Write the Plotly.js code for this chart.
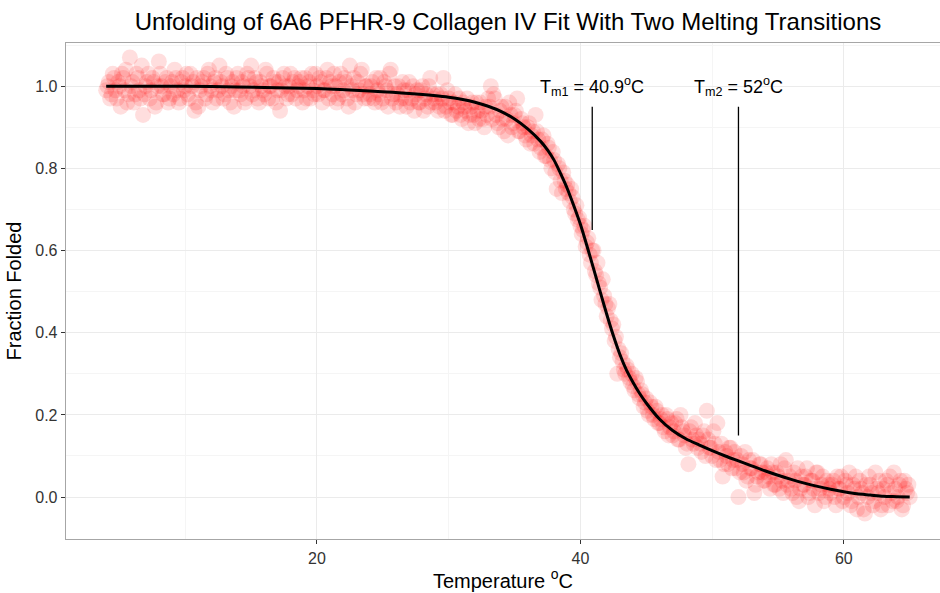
<!DOCTYPE html>
<html>
<head>
<meta charset="utf-8">
<script src="https://cdn.plot.ly/plotly-3.0.1.min.js"></script>
<style>html,body{margin:0;padding:0;background:#fff;overflow:hidden}#chart{width:940px;height:593px}</style>
</head>
<body>
<div id="chart"></div>
<script>
// Measured points: temperature (°C) and fraction folded (first pass of readings)
var tempC = [
 4.0,4.2,4.4,4.6,4.8,5.0,5.2,5.4,5.6,5.8,6.0,6.2,6.4,6.6,6.8,7.0,7.2,7.4,7.6,7.8,8.0,8.2,8.4,8.6,8.8,
 9.0,9.2,9.4,9.6,9.8,10.0,10.2,10.4,10.6,10.8,11.0,11.2,11.4,11.6,11.8,12.0,12.2,12.4,12.6,12.8,13.0,13.2,13.4,13.6,13.8,
 14.0,14.2,14.4,14.6,14.8,15.0,15.2,15.4,15.6,15.8,16.0,16.2,16.4,16.6,16.8,17.0,17.2,17.4,17.6,17.8,18.0,18.2,18.4,18.6,18.8,
 19.0,19.2,19.4,19.6,19.8,20.0,20.2,20.4,20.6,20.8,21.0,21.2,21.4,21.6,21.8,22.0,22.2,22.4,22.6,22.8,23.0,23.2,23.4,23.6,23.8,
 24.0,24.2,24.4,24.6,24.8,25.0,25.2,25.4,25.6,25.8,26.0,26.2,26.4,26.6,26.8,27.0,27.2,27.4,27.6,27.8,28.0,28.2,28.4,28.6,28.8,
 29.0,29.2,29.4,29.6,29.8,30.0,30.2,30.4,30.6,30.8,31.0,31.2,31.4,31.6,31.8,32.0,32.2,32.4,32.6,32.8,33.0,33.2,33.4,33.6,33.8,
 34.0,34.2,34.4,34.6,34.8,35.0,35.2,35.4,35.6,35.8,36.0,36.2,36.4,36.6,36.8,37.0,37.2,37.4,37.6,37.8,38.0,38.2,38.4,38.6,38.8,
 39.0,39.2,39.4,39.6,39.8,40.0,40.2,40.4,40.6,40.8,41.0,41.2,41.4,41.6,41.8,42.0,42.2,42.4,42.6,42.8,43.0,43.2,43.4,43.6,43.8,
 44.0,44.2,44.4,44.6,44.8,45.0,45.2,45.4,45.6,45.8,46.0,46.2,46.4,46.6,46.8,47.0,47.2,47.4,47.6,47.8,48.0,48.2,48.4,48.6,48.8,
 49.0,49.2,49.4,49.6,49.8,50.0,50.2,50.4,50.6,50.8,51.0,51.2,51.4,51.6,51.8,52.0,52.2,52.4,52.6,52.8,53.0,53.2,53.4,53.6,53.8,
 54.0,54.2,54.4,54.6,54.8,55.0,55.2,55.4,55.6,55.8,56.0,56.2,56.4,56.6,56.8,57.0,57.2,57.4,57.6,57.8,58.0,58.2,58.4,58.6,58.8,
 59.0,59.2,59.4,59.6,59.8,60.0,60.2,60.4,60.6,60.8,61.0,61.2,61.4,61.6,61.8,62.0,62.2,62.4,62.6,62.8,63.0,63.2,63.4,63.6,63.8,
 64.0,64.2,64.4,64.6,64.8,65.0
];
var fracFolded = [
 0.99,1.01,0.98,1.02,0.97,1.00,1.03,0.99,0.96,1.07,1.01,0.98,1.02,0.97,0.93,1.00,1.03,0.99,1.01,0.96,1.06,1.00,0.98,1.02,0.97,
 1.01,1.04,0.99,0.97,1.02,1.00,0.98,1.03,1.01,0.96,0.95,1.00,1.02,0.98,1.04,0.99,1.01,0.97,1.05,1.00,0.98,1.02,0.96,1.01,0.99,
 1.03,0.98,1.00,0.97,1.02,1.05,0.99,1.01,0.96,1.00,0.98,1.03,1.00,0.97,1.01,0.99,0.94,1.02,1.00,0.98,1.03,1.01,0.97,1.00,1.02,
 0.99,0.97,1.01,1.03,0.98,1.00,1.02,0.96,0.99,1.04,1.01,0.98,1.00,0.97,1.03,0.99,1.01,0.95,1.00,1.02,0.98,0.99,1.04,0.97,1.00,
 0.98,1.01,0.96,0.99,1.02,0.97,1.00,0.95,1.04,0.98,0.96,1.00,0.97,0.99,0.95,1.01,0.97,0.94,0.99,0.96,1.00,0.97,0.95,1.02,0.98,
 0.96,0.94,0.98,1.02,0.95,0.97,0.93,0.96,0.94,0.97,0.92,0.95,0.97,0.93,0.96,0.91,0.94,0.96,0.92,0.95,0.97,1.00,0.98,0.93,0.90,
 0.95,0.89,0.92,0.96,0.90,0.93,0.97,0.89,0.91,0.88,0.90,0.86,0.89,0.93,0.87,0.85,0.88,0.83,0.85,0.80,0.82,0.75,0.80,0.74,0.77,
 0.76,0.72,0.73,0.69,0.675,0.66,0.65,0.61,0.63,0.57,0.60,0.54,0.52,0.48,0.49,0.44,0.47,0.41,0.38,0.30,0.34,0.33,0.30,0.31,0.28,
 0.27,0.29,0.25,0.26,0.22,0.24,0.20,0.22,0.19,0.21,0.18,0.20,0.16,0.19,0.17,0.15,0.18,0.14,0.20,0.16,0.12,0.08,0.17,0.13,0.15,
 0.14,0.11,0.16,0.21,0.12,0.10,0.13,0.18,0.09,0.05,0.11,0.08,0.12,0.09,0.07,0.00,0.10,0.06,0.04,0.09,0.07,0.01,0.05,0.08,0.06,
 0.04,0.07,0.02,0.06,0.03,0.05,0.08,0.01,0.09,0.04,0.02,0.06,0.00,-0.01,0.05,0.03,0.07,0.01,0.04,-0.02,0.06,0.02,0.05,0.00,0.03,
 0.01,0.04,-0.02,0.02,0.05,0.00,0.03,0.06,-0.01,0.02,-0.03,0.04,0.01,-0.04,0.00,0.03,-0.02,0.06,0.01,-0.03,0.02,0.04,-0.02,0.01,0.06,
 -0.01,0.03,-0.03,0.04,0.01,0.00
];
// Measured points: second pass of readings (in-between temperatures)
var tempC2 = [
 4.1,4.3,4.5,4.7,4.9,5.1,5.3,5.5,5.7,5.9,6.1,6.3,6.5,6.7,6.9,7.1,7.3,7.5,7.7,7.9,8.1,8.3,8.5,8.7,8.9,
 9.1,9.3,9.5,9.7,9.9,10.1,10.3,10.5,10.7,10.9,11.1,11.3,11.5,11.7,11.9,12.1,12.3,12.5,12.7,12.9,13.1,13.3,13.5,13.7,13.9,
 14.1,14.3,14.5,14.7,14.9,15.1,15.3,15.5,15.7,15.9,16.1,16.3,16.5,16.7,16.9,17.1,17.3,17.5,17.7,17.9,18.1,18.3,18.5,18.7,18.9,
 19.1,19.3,19.5,19.7,19.9,20.1,20.3,20.5,20.7,20.9,21.1,21.3,21.5,21.7,21.9,22.1,22.3,22.5,22.7,22.9,23.1,23.3,23.5,23.7,23.9,
 24.1,24.3,24.5,24.7,24.9,25.1,25.3,25.5,25.7,25.9,26.1,26.3,26.5,26.7,26.9,27.1,27.3,27.5,27.7,27.9,28.1,28.3,28.5,28.7,28.9,
 29.1,29.3,29.5,29.7,29.9,30.1,30.3,30.5,30.7,30.9,31.1,31.3,31.5,31.7,31.9,32.1,32.3,32.5,32.7,32.9,33.1,33.3,33.5,33.7,33.9,
 34.1,34.3,34.5,34.7,34.9,35.1,35.3,35.5,35.7,35.9,36.1,36.3,36.5,36.7,36.9,37.1,37.3,37.5,37.7,37.9,38.1,38.3,38.5,38.7,38.9,
 39.1,39.3,39.5,39.7,39.9,40.1,40.3,40.5,40.7,40.9,41.1,41.3,41.5,41.7,41.9,42.1,42.3,42.5,42.7,42.9,43.1,43.3,43.5,43.7,43.9,
 44.1,44.3,44.5,44.7,44.9,45.1,45.3,45.5,45.7,45.9,46.1,46.3,46.5,46.7,46.9,47.1,47.3,47.5,47.7,47.9,48.1,48.3,48.5,48.7,48.9,
 49.1,49.3,49.5,49.7,49.9,50.1,50.3,50.5,50.7,50.9,51.1,51.3,51.5,51.7,51.9,52.1,52.3,52.5,52.7,52.9,53.1,53.3,53.5,53.7,53.9,
 54.1,54.3,54.5,54.7,54.9,55.1,55.3,55.5,55.7,55.9,56.1,56.3,56.5,56.7,56.9,57.1,57.3,57.5,57.7,57.9,58.1,58.3,58.5,58.7,58.9,
 59.1,59.3,59.5,59.7,59.9,60.1,60.3,60.5,60.7,60.9,61.1,61.3,61.5,61.7,61.9,62.1,62.3,62.5,62.7,62.9,63.1,63.3,63.5,63.7,63.9,
 64.1,64.3,64.5,64.7,64.9
];
var fracFolded2 = [
 1.00,0.97,1.03,0.99,1.01,0.95,1.02,1.04,0.98,1.00,0.96,1.03,0.99,1.05,0.98,1.01,0.97,1.02,0.95,1.00,1.03,0.98,1.01,0.96,1.00,
 0.98,1.02,0.96,1.01,0.99,1.03,0.97,1.00,0.94,1.02,0.99,1.01,0.97,1.03,1.00,0.96,1.02,0.99,1.01,0.97,1.03,0.99,1.00,0.95,1.02,
 0.99,1.01,0.96,1.03,1.00,0.98,1.02,0.97,1.01,0.99,1.04,0.97,1.00,1.02,0.96,1.01,0.99,1.03,0.97,1.00,0.98,1.02,0.99,1.01,0.96,
 1.02,1.00,0.97,0.99,1.03,0.98,1.01,0.99,1.02,0.97,1.00,1.03,0.96,1.01,0.98,1.02,0.97,1.05,0.99,0.96,1.01,1.03,0.98,1.00,0.97,
 1.00,0.97,1.02,0.98,0.96,1.01,0.99,1.03,0.97,1.00,0.98,0.95,1.01,0.97,0.99,0.96,1.00,0.98,0.96,0.99,0.94,0.98,1.00,0.96,0.97,
 0.98,0.95,0.97,0.94,0.99,0.96,0.93,0.98,0.95,0.93,0.96,0.94,0.91,0.95,0.93,0.96,0.92,0.94,0.90,0.93,0.95,0.92,0.97,0.91,0.94,
 0.92,0.95,0.88,0.93,0.91,0.94,0.89,0.92,0.90,0.87,0.91,0.88,0.86,0.89,0.84,0.87,0.83,0.86,0.82,0.84,0.79,0.81,0.77,0.79,0.75,
 0.74,0.75,0.70,0.71,0.68,0.64,0.66,0.62,0.59,0.60,0.55,0.57,0.51,0.53,0.47,0.46,0.43,0.42,0.39,0.36,0.35,0.31,0.32,0.29,0.30,
 0.26,0.28,0.24,0.25,0.23,0.21,0.23,0.20,0.22,0.18,0.19,0.17,0.20,0.15,0.18,0.16,0.19,0.14,0.17,0.15,0.13,0.16,0.14,0.18,0.12,
 0.13,0.15,0.10,0.14,0.12,0.16,0.09,0.11,0.13,0.08,0.10,0.12,0.07,0.11,0.09,0.06,0.08,0.11,0.05,0.07,0.09,0.03,0.06,0.08,0.04,
 0.06,0.05,0.08,0.03,0.06,0.02,0.04,0.07,0.03,0.05,0.01,0.04,0.07,0.02,0.03,0.05,0.00,0.04,0.02,0.06,0.01,0.03,-0.01,0.04,0.02,
 0.03,0.00,0.05,0.02,-0.01,0.04,0.01,-0.02,0.03,0.05,0.00,0.02,-0.03,0.03,0.05,0.01,-0.01,0.02,0.04,-0.02,0.00,0.03,0.05,-0.01,0.02,
 0.00,0.04,-0.02,0.02,0.03
];

// Two-transition fit curve
var fitTemp = [4,8,12,16,20,24,27,30,32,33,34,35,36,37,37.5,38,38.5,39,39.5,40,40.5,41,41.5,42,42.5,43,43.5,44,44.5,45,46,47,48,49,50,51,52,53,54,55,56,57,58,59,60,61,62,63,64,65];
var fitFrac = [1.000,1.000,0.999,0.997,0.994,0.988,0.982,0.973,0.961,0.951,0.938,0.920,0.896,0.865,0.845,0.820,0.787,0.751,0.709,0.664,0.611,0.556,0.500,0.445,0.393,0.347,0.309,0.279,0.252,0.229,0.190,0.162,0.142,0.127,0.113,0.100,0.088,0.076,0.064,0.053,0.043,0.034,0.026,0.019,0.013,0.008,0.005,0.002,0.001,0.000];

// Melting temperatures and their marker segments
var tmLabels = ["T<sub>m1</sub> = 40.9<sup>o</sup>C", "T<sub>m2</sub> = 52<sup>o</sup>C"];
var tmValues = [40.9, 52];
var tmLineTop = [0.95, 0.95];
var tmLineBottom = [0.65, 0.15];
var tmLabelY = [1.0, 1.0];

var xTickVals = [20, 40, 60];
var yTickVals = [0.0, 0.2, 0.4, 0.6, 0.8, 1.0];
var yTickText = ["0.0", "0.2", "0.4", "0.6", "0.8", "1.0"];

var FONT = "Liberation Sans, Arial, Helvetica, sans-serif";
var pointMarker = {color: "rgba(255,0,0,0.13)", size: 16, line: {width: 0}};

var traces = [{
  type: "scatter", mode: "markers", x: tempC, y: fracFolded,
  marker: pointMarker, hoverinfo: "x+y", showlegend: false
}, {
  type: "scatter", mode: "markers", x: tempC2, y: fracFolded2,
  marker: pointMarker, hoverinfo: "x+y", showlegend: false
}, {
  type: "scatter", mode: "lines", x: fitTemp, y: fitFrac,
  line: {color: "#000000", width: 3, shape: "spline", smoothing: 0.8},
  showlegend: false
}];
tmValues.forEach(function (t, i) {
  traces.push({
    type: "scatter", mode: "lines", x: [t, t], y: [tmLineTop[i], tmLineBottom[i]],
    line: {color: "#000000", width: 1.3}, showlegend: false, hoverinfo: "skip"
  });
});

var annotations = tmValues.map(function (t, i) {
  return {x: t, y: tmLabelY[i], xref: "x", yref: "y", text: tmLabels[i], showarrow: false,
    xanchor: "center", yanchor: "middle", font: {family: FONT, size: 18, color: "#000"}};
});

var layout = {
  width: 940, height: 593,
  margin: {l: 66, r: 0, t: 43, b: 54, pad: 0},
  paper_bgcolor: "#ffffff", plot_bgcolor: "#ffffff",
  font: {family: FONT, color: "#333"},
  title: {text: "Unfolding of 6A6 PFHR-9 Collagen IV Fit With Two Melting Transitions",
    font: {family: FONT, size: 24, color: "#000"},
    xref: "container", x: 508 / 940, xanchor: "center",
    yref: "container", y: 1 - 22 / 593, yanchor: "middle"},
  xaxis: {
    range: [0.95, 67.3], tickvals: xTickVals, ticks: "outside", ticklen: 4, tickwidth: 1, tickcolor: "#333",
    tickfont: {family: FONT, size: 16, color: "#333"},
    showgrid: true, gridcolor: "#EBEBEB", gridwidth: 1,
    minor: {dtick: 10, tick0: 0, showgrid: true, gridcolor: "#F5F5F5", gridwidth: 1, ticks: ""},
    showline: true, linecolor: "#A6A6A6", linewidth: 1.3, mirror: true, zeroline: false,
    title: {text: "Temperature <sup>o</sup>C", font: {family: FONT, size: 20, color: "#000"}, standoff: 6},
    automargin: false
  },
  yaxis: {
    range: [-0.102, 1.105], tickvals: yTickVals, ticktext: yTickText, ticks: "outside", ticklen: 4, tickwidth: 1, tickcolor: "#333",
    tickfont: {family: FONT, size: 16, color: "#333"},
    showgrid: true, gridcolor: "#EBEBEB", gridwidth: 1,
    minor: {dtick: 0.1, tick0: 0, showgrid: true, gridcolor: "#F5F5F5", gridwidth: 1, ticks: ""},
    showline: true, linecolor: "#A6A6A6", linewidth: 1.3, mirror: false, zeroline: false,
    title: {text: "Fraction Folded", font: {family: FONT, size: 20, color: "#000"}, standoff: 8},
    automargin: false
  },
  annotations: annotations,
  showlegend: false
};

Plotly.newPlot("chart", traces, layout, {displayModeBar: false, staticPlot: true});
</script>
</body>
</html>
